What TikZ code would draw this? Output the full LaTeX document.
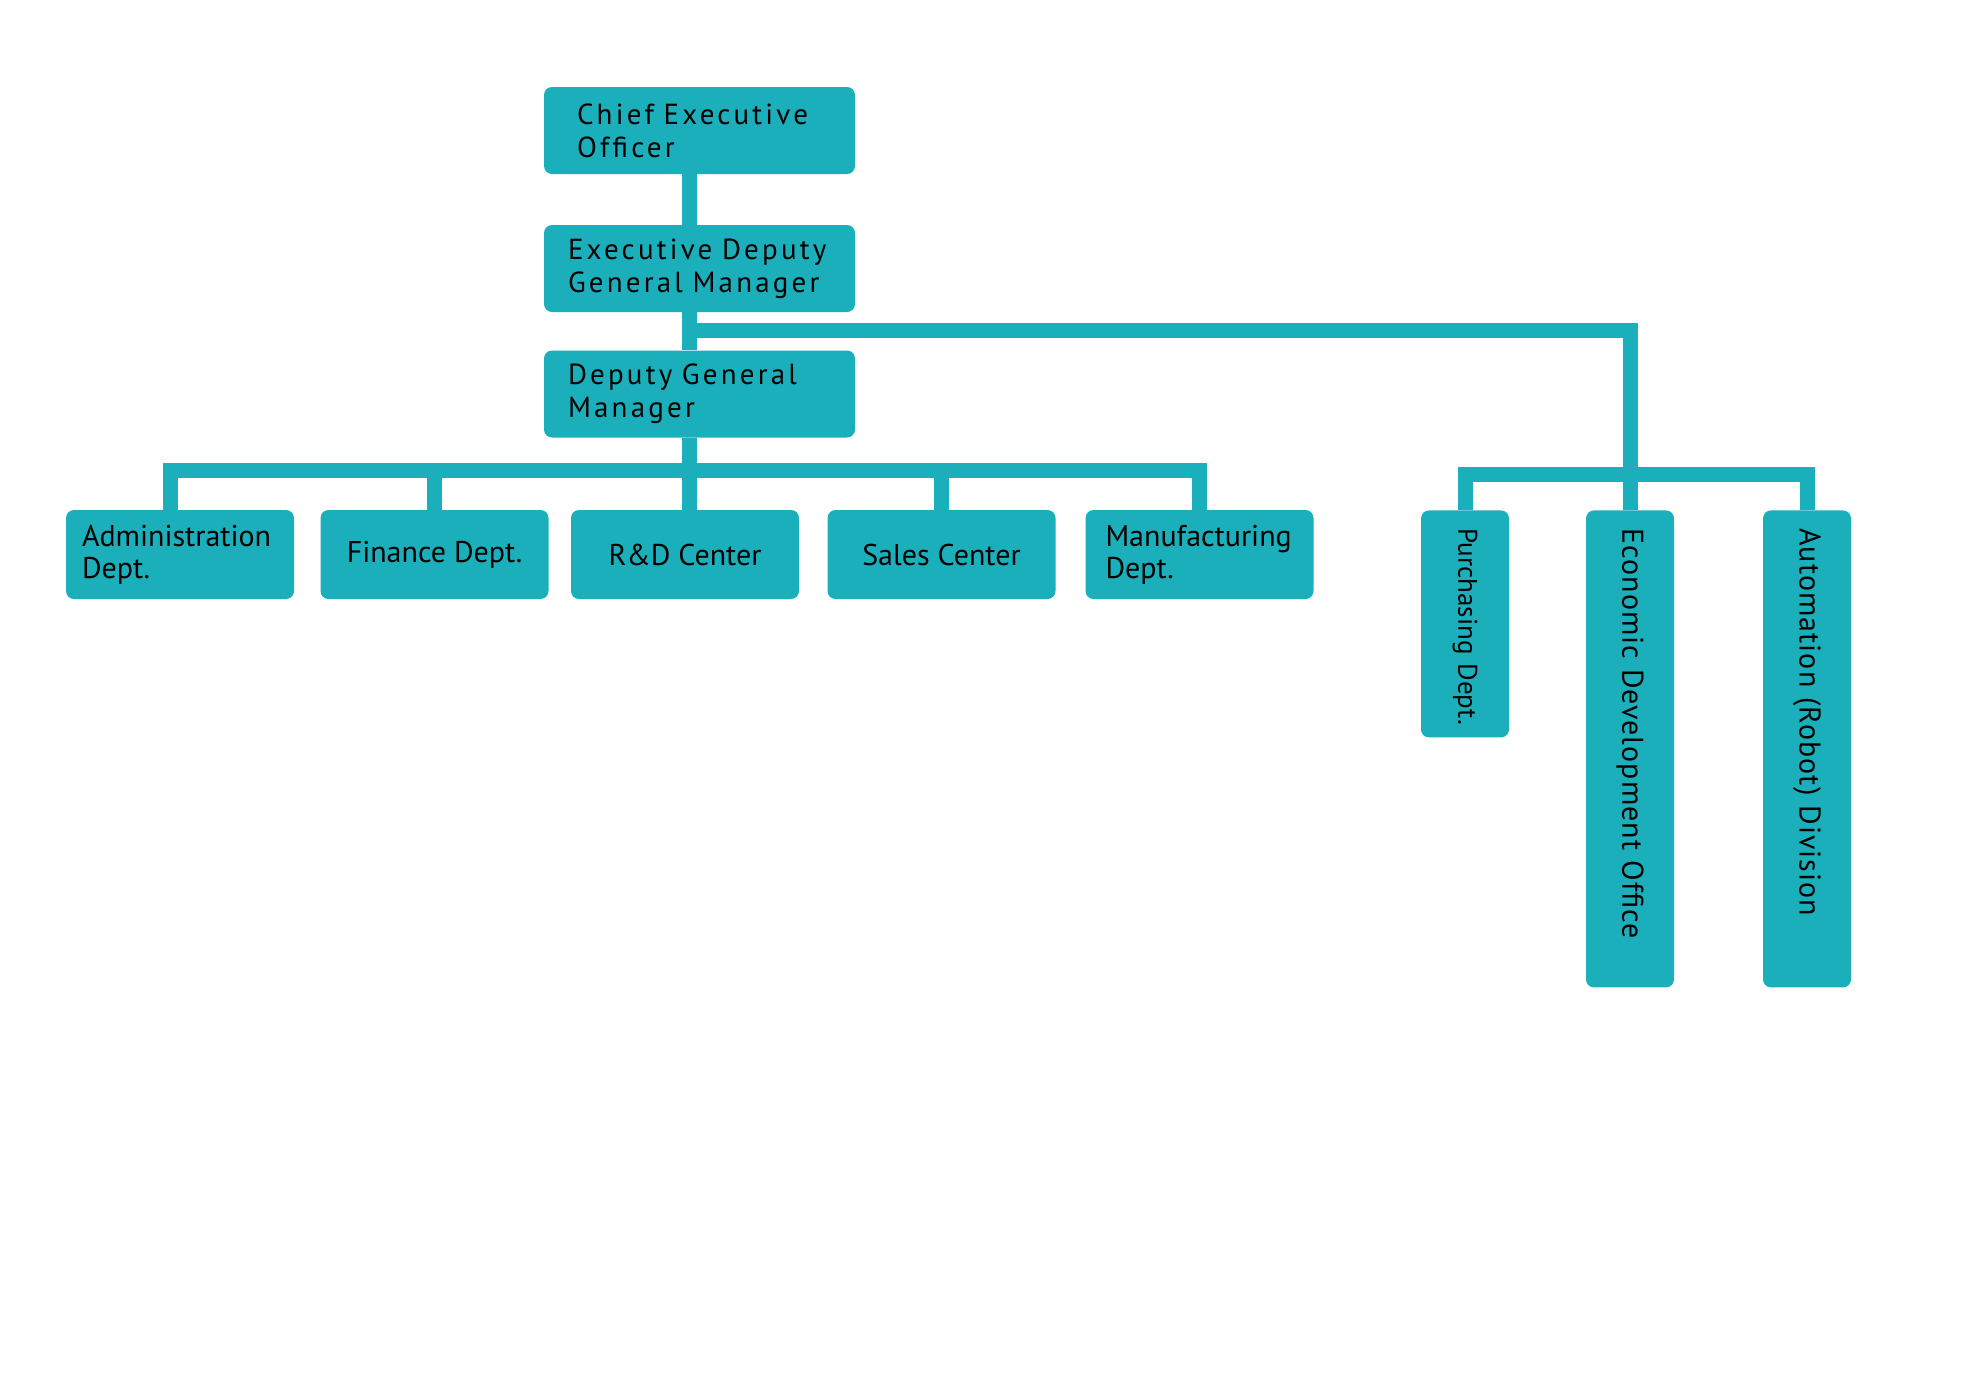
\documentclass[tikz,border=0pt]{standalone}
\usepackage{fontspec}
\setmainfont{PT Sans}
\newfontfamily\spacedfont[LetterSpace=11]{PT Sans}
\newfontfamily\widefont[LetterSpace=3.5]{PT Sans}
\definecolor{orgteal}{RGB}{26,175,186}
\tikzset{
	box/.style={fill=orgteal, rounded corners=4pt, inner sep=0pt, align=left},
	topbox/.style={box, minimum width=155.5pt, minimum height=43.5pt, font=\spacedfont\fontsize{14.5}{16.5}\selectfont},
	deptbox/.style={box, minimum width=114pt, minimum height=44.5pt, font=\fontsize{15}{16}\selectfont},
	sidebox/.style={box, rotate=-90, anchor=west, minimum height=44pt, font=\widefont\fontsize{15}{16}\selectfont},
	link/.style={orgteal, line width=7.5pt, line join=miter},
}
\begin{document}
\begin{tikzpicture}[x=0.5pt,y=-0.5pt]
	\useasboundingbox (0,0) rectangle (1980,1393);
	% top chain
	\node[topbox, text width=122.5pt] (ceo) at (699.5,130.5) {Chief~Executive\\Officer};
	\node[topbox, text width=131.5pt] (edgm) at (699.5,268.5) {Executive~Deputy\\General~Manager};
	\node[topbox, text width=131.5pt] (dgm) at (699.5,394) {Deputy~General\\Manager};
	% departments
	\node[deptbox, text width=98pt] (admin) at (180,554.5) {Administration\\Dept.};
	\node[deptbox, align=center] (finance) at (434.5,554.5) {Finance Dept.};
	\node[deptbox, align=center] (rd) at (685,554.5) {R\&D Center};
	\node[deptbox, align=center] (sales) at (941.5,554.5) {Sales Center};
	\node[deptbox, text width=94pt] (manuf) at (1199.5,554.5) {Manufacturing\\Dept.};
	% side units
	\node[sidebox, minimum width=113.5pt, text width=95.5pt, font=\fontsize{13.5}{16}\selectfont] (purch) at (1465,510) {Purchasing~Dept.};
	\node[sidebox, minimum width=238.5pt, text width=220.5pt] (econ) at (1630,510) {Economic Development Office};
	\node[sidebox, minimum width=238.5pt, text width=220.5pt] (auto) at (1807,510) {Automation (Robot) Division};
	% connectors
	\coordinate (split) at (690,330);
	\coordinate (lbus) at (0,470);
	\coordinate (rbus) at (0,474);
	\draw[link] ([xshift=-5pt]ceo.south) -- ([xshift=-5pt]edgm.north);
	\draw[link] ([xshift=-5pt]edgm.south) -- ([xshift=-5pt]dgm.north);
	\draw[link] ([xshift=-5pt]dgm.south) -- ([xshift=-5pt]dgm.south |- rd.north);
	\draw[link] (split) -| (econ.west);
	\draw[link] ([xshift=-5pt]admin.north) -- ([xshift=-5pt]admin.north |- lbus) -- (manuf.north |- lbus) -- (manuf.north);
	\foreach \d in {finance,sales}
		\draw[link] (\d.north) -- (\d.north |- lbus);
	\draw[link] (purch.west) -- (purch.west |- rbus) -- (auto.west |- rbus) -- (auto.west);
\end{tikzpicture}
\end{document}
